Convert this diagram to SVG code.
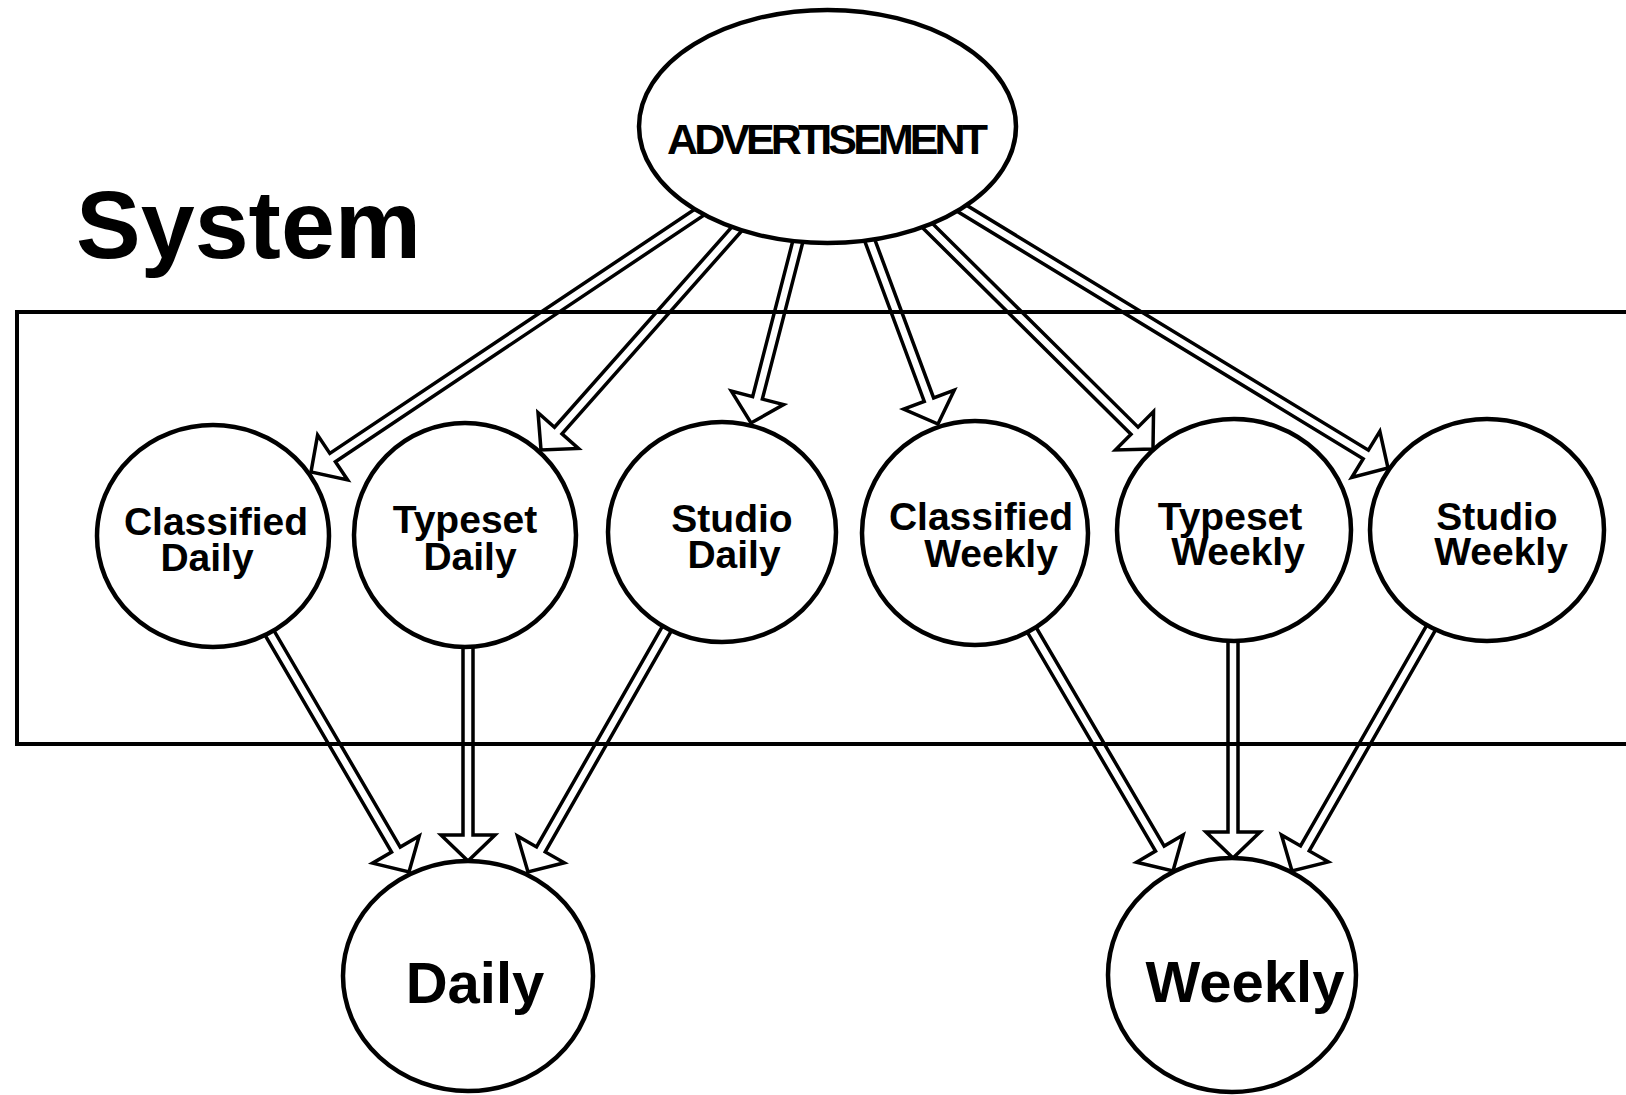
<svg xmlns="http://www.w3.org/2000/svg" width="1626" height="1095" viewBox="0 0 1626 1095">
<style>
.node{fill:#fff;stroke:#000;stroke-width:4.5}
.arr{fill:#fff;stroke:#000;stroke-width:3.5;stroke-linejoin:miter}
.frame{fill:none;stroke:#000;stroke-width:4}
text{font-family:"Liberation Sans",Arial,Helvetica,sans-serif;font-weight:bold;fill:#000;text-anchor:middle}
.lbl{font-size:39px}
.big{font-size:58px}
</style>
<rect width="1626" height="1095" fill="#fff"/>
<text x="76" y="258" style="font-size:97px;text-anchor:start">System</text>
<g id="connectors">
<path class="arr" transform="translate(311,472) rotate(146.22)" d="M-621,-5H-26V-27L0,0L-26,27V5H-621Z"/>
<path class="arr" transform="translate(541,450) rotate(131.53)" d="M-432,-5H-26V-27L0,0L-26,27V5H-432Z"/>
<path class="arr" transform="translate(751,423) rotate(104.47)" d="M-306,-5H-26V-27L0,0L-26,27V5H-306Z"/>
<path class="arr" transform="translate(938,424) rotate(69.62)" d="M-317,-5H-26V-27L0,0L-26,27V5H-317Z"/>
<path class="arr" transform="translate(1153,449) rotate(44.73)" d="M-458,-5H-26V-27L0,0L-26,27V5H-458Z"/>
<path class="arr" transform="translate(1388,468) rotate(31.36)" d="M-656,-5H-26V-27L0,0L-26,27V5H-656Z"/>
<path class="arr" transform="translate(409,872) rotate(59.74)" d="M-389,-5H-26V-27L0,0L-26,27V5H-389Z"/>
<path class="arr" transform="translate(468,861) rotate(90)" d="M-326,-5H-26V-27L0,0L-26,27V5H-326Z"/>
<path class="arr" transform="translate(528,872) rotate(119.71)" d="M-391,-5H-26V-27L0,0L-26,27V5H-391Z"/>
<path class="arr" transform="translate(1173,871) rotate(59.64)" d="M-391,-5H-26V-27L0,0L-26,27V5H-391Z"/>
<path class="arr" transform="translate(1233,858) rotate(90)" d="M-328,-5H-26V-27L0,0L-26,27V5H-328Z"/>
<path class="arr" transform="translate(1292,871) rotate(119.76)" d="M-392,-5H-26V-27L0,0L-26,27V5H-392Z"/>
</g>
<path id="system-frame" class="frame" d="M1640,312H17V744H1640"/>
<g id="advertisement">
<ellipse class="node" cx="827.5" cy="126.5" rx="188.5" ry="116.5"/>
<text x="827.5" y="154" style="font-size:43px" textLength="321" lengthAdjust="spacing">ADVERTISEMENT</text>
</g>
<g id="classified-daily">
<ellipse class="node" cx="213" cy="536" rx="116" ry="111"/>
<text class="lbl" x="216" y="535">Classified</text>
<text class="lbl" x="207" y="571">Daily</text>
</g>
<g id="typeset-daily">
<ellipse class="node" cx="465" cy="535" rx="111" ry="112"/>
<text class="lbl" x="465" y="533">Typeset</text>
<text class="lbl" x="470" y="570">Daily</text>
</g>
<g id="studio-daily">
<ellipse class="node" cx="722" cy="532" rx="114" ry="110"/>
<text class="lbl" x="732" y="532">Studio</text>
<text class="lbl" x="734" y="568">Daily</text>
</g>
<g id="classified-weekly">
<ellipse class="node" cx="975" cy="533" rx="113" ry="112"/>
<text class="lbl" x="981" y="530">Classified</text>
<text class="lbl" x="991" y="567">Weekly</text>
</g>
<g id="typeset-weekly">
<ellipse class="node" cx="1234" cy="530" rx="117" ry="111"/>
<text class="lbl" x="1230" y="530">Typeset</text>
<text class="lbl" x="1238" y="565">Weekly</text>
</g>
<g id="studio-weekly">
<ellipse class="node" cx="1487" cy="530" rx="117" ry="111"/>
<text class="lbl" x="1497" y="530">Studio</text>
<text class="lbl" x="1501" y="565">Weekly</text>
</g>
<g id="daily">
<ellipse class="node" cx="468" cy="976" rx="125" ry="115"/>
<text class="big" x="475" y="1003">Daily</text>
</g>
<g id="weekly">
<ellipse class="node" cx="1232" cy="975" rx="124" ry="117"/>
<text class="big" x="1245" y="1002">Weekly</text>
</g>
</svg>
